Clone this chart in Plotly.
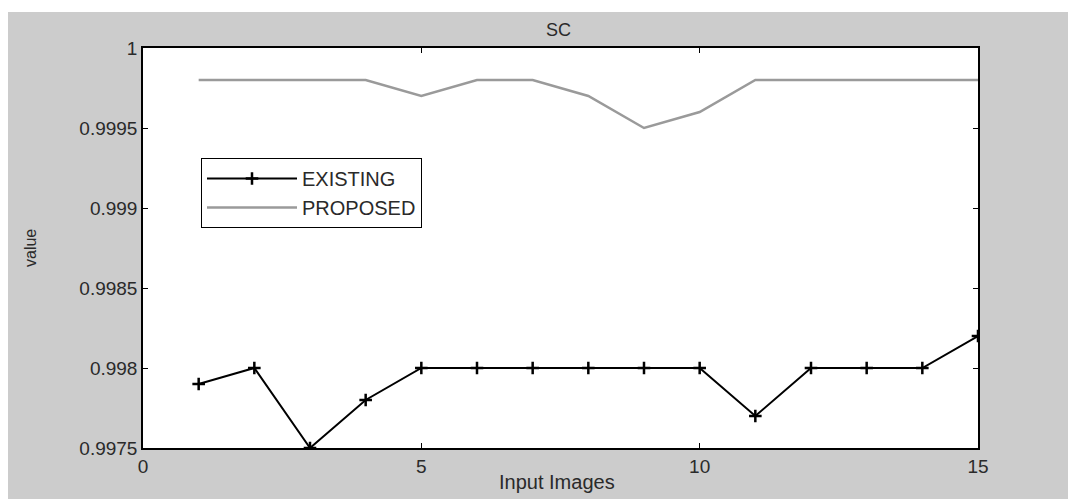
import plotly.graph_objects as go

x_images = list(range(1, 16))
existing = [0.9979, 0.9980, 0.9975, 0.9978, 0.9980, 0.9980, 0.9980, 0.9980,
            0.9980, 0.9980, 0.9977, 0.9980, 0.9980, 0.9980, 0.9982]
proposed = [0.9998, 0.9998, 0.9998, 0.9998, 0.9997, 0.9998, 0.9998, 0.9997,
            0.9995, 0.9996, 0.9998, 0.9998, 0.9998, 0.9998, 0.9998]
x_ticks = [0, 5, 10, 15]
y_ticks = [0.9975, 0.998, 0.9985, 0.999, 0.9995, 1.0]
y_ticktext = ["0.9975", "0.998", "0.9985", "0.999", "0.9995", "1"]

W, H = 1068, 499
L, R, T, B = 143, 978, 48, 448
pw, ph = R - L, B - T


def px(x):
    return (x - L) / pw


def py(y):
    return (B - y) / ph


FONT = "Liberation Sans, Arial, sans-serif"
TXT = "#2a2a2a"

fig = go.Figure()
fig.add_trace(go.Scatter(
    x=x_images, y=existing, name="EXISTING", mode="lines+markers",
    line=dict(color="#000000", width=2),
    marker=dict(symbol="cross-thin", size=9, line=dict(width=2.5, color="#000000"), color="#000000"),
))
fig.add_trace(go.Scatter(
    x=x_images, y=proposed, name="PROPOSED", mode="lines",
    line=dict(color="#9a9a9a", width=2.5),
))

fig.update_layout(
    width=W, height=H,
    margin=dict(l=L, r=W - R, t=T, b=H - B),
    paper_bgcolor="#cccccc",
    plot_bgcolor="#ffffff",
    font=dict(family=FONT, size=18, color=TXT),
    showlegend=True,
    legend=dict(
        x=px(201), y=py(158), xanchor="left", yanchor="top",
        bgcolor="#ffffff", bordercolor="#000000", borderwidth=1,
        font=dict(family=FONT, size=20, color=TXT),
        tracegroupgap=0, itemwidth=90,
    ),
    shapes=[
        dict(type="rect", xref="paper", yref="paper",
             x0=px(0), x1=px(W + 5), y0=py(12), y1=py(-5),
             fillcolor="#ffffff", line=dict(width=0), layer="below"),
        dict(type="rect", xref="paper", yref="paper",
             x0=px(-5), x1=px(8), y0=py(H + 5), y1=py(-5),
             fillcolor="#ffffff", line=dict(width=0), layer="below"),
    ],
    annotations=[
        dict(text="SC", xref="paper", yref="paper", x=px(558), y=py(30),
             xanchor="center", yanchor="middle", showarrow=False,
             font=dict(family=FONT, size=18, color=TXT)),
        dict(text="Input Images", xref="paper", yref="paper", x=px(557), y=py(482),
             xanchor="center", yanchor="middle", showarrow=False,
             font=dict(family=FONT, size=20, color=TXT)),
        dict(text="value", xref="paper", yref="paper", x=px(30), y=py(248),
             xanchor="center", yanchor="middle", showarrow=False, textangle=-90,
             font=dict(family=FONT, size=16, color=TXT)),
    ],
)

fig.update_xaxes(
    range=[0, 15], tickvals=x_ticks, ticks="inside", ticklen=5, tickwidth=1,
    tickcolor="#000000", showline=True, linecolor="#000000", linewidth=1.5,
    mirror="ticks", showgrid=False, zeroline=False,
    tickfont=dict(family=FONT, size=19, color=TXT),
)
fig.update_yaxes(
    range=[0.9975, 1.0], tickvals=y_ticks, ticktext=y_ticktext, ticks="inside",
    ticklen=5, tickwidth=1, tickcolor="#000000", showline=True,
    linecolor="#000000", linewidth=1.5, mirror="ticks", showgrid=False,
    zeroline=False, tickfont=dict(family=FONT, size=19, color=TXT),
)

fig.write_html("out.html")
